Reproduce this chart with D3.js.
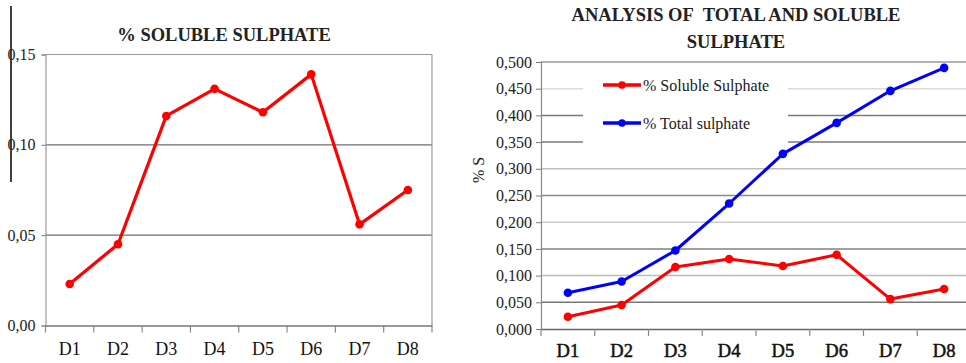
<!DOCTYPE html>
<html><head><meta charset="utf-8">
<script src="https://cdn.jsdelivr.net/npm/d3@7"></script>
<style>
body{margin:0;background:#fff}
svg{display:block}
svg text{font-family:"Liberation Serif","Times New Roman",serif !important;white-space:pre}
</style>
</head><body><svg id="c" width="966" height="363"></svg>
<script>
const categories = ["D1","D2","D3","D4","D5","D6","D7","D8"];
const solubleSulphate = [0.023, 0.045, 0.116, 0.131, 0.118, 0.139, 0.056, 0.075];
const totalSulphate = [0.068, 0.089, 0.147, 0.235, 0.328, 0.386, 0.446, 0.489];
const leftTicks = [0, 0.05, 0.10, 0.15];
const leftTickLabels = ["0,00","0,05","0,10","0,15"];
const rightTicks = [0,0.05,0.1,0.15,0.2,0.25,0.3,0.35,0.4,0.45,0.5];
const rightTickLabels = ["0,000","0,050","0,100","0,150","0,200","0,250","0,300","0,350","0,400","0,450","0,500"];
const leftTitle = "% SOLUBLE SULPHATE";
const rightTitle = ["ANALYSIS OF\u00a0 TOTAL AND SOLUBLE","SULPHATE"];
const seriesNames = ["% Soluble Sulphate","% Total sulphate"];
const yLabel = "% S";

const svg = d3.select("#c");
const FONT = "Liberation Serif";
const RED = "#ff0000", BLUE = "#0000ff";

svg.append("line").attr("x1",11).attr("x2",11).attr("y1",6).attr("y2",182)
  .attr("stroke","#000").attr("stroke-width",1.5);

// ---------- LEFT CHART ----------
{
  const L = {x0:45.5, x1:432, y0:54.5, y1:325.5};
  const x = d3.scaleBand().domain(categories).range([L.x0, L.x1]);
  const y = d3.scaleLinear().domain([0,0.15]).range([L.y1, L.y0]);
  const g = svg.append("g");
  g.selectAll("line.grid").data(leftTicks.slice(1)).join("line")
    .attr("x1",L.x0).attr("x2",L.x1).attr("y1",d=>y(d)).attr("y2",d=>y(d))
    .attr("stroke",(d,i)=> i===2 ? "#9a9a9a" : "#6e6e6e").attr("stroke-width",1.2);
  g.append("line").attr("x1",L.x1).attr("x2",L.x1).attr("y1",L.y0).attr("y2",L.y1)
    .attr("stroke","#9a9a9a").attr("stroke-width",1.2);
  const ya = d3.axisLeft(y).tickValues(leftTicks).tickFormat((d,i)=>leftTickLabels[i]).tickSize(4);
  const yg = g.append("g").attr("transform",`translate(${L.x0},0)`).call(ya).attr("font-family",FONT);
  yg.select(".domain").attr("stroke","#9a9a9a").attr("stroke-width",1.2);
  yg.selectAll(".tick line").attr("stroke","#777");
  yg.selectAll("text").attr("font-family",FONT).attr("font-size",16).attr("fill","#222").attr("x",-10).attr("dy","0.32em");
  const xa = d3.axisBottom(x).tickSize(0).tickSizeOuter(0);
  const xg = g.append("g").attr("transform",`translate(0,${L.y1})`).call(xa).attr("font-family",FONT);
  xg.select(".domain").attr("stroke","#777").attr("stroke-width",1.4);
  xg.selectAll("text").attr("font-family",FONT).attr("font-size",18).attr("fill","#111").attr("y",29).attr("dy",0);
  const bounds = categories.map(c=>x(c)).concat([L.x1]);
  g.selectAll("line.xt").data(bounds).join("line")
    .attr("x1",d=>d).attr("x2",d=>d).attr("y1",L.y1).attr("y2",L.y1+7)
    .attr("stroke","#888").attr("stroke-width",1.2);
  const line = d3.line().x((d,i)=>x(categories[i])+x.bandwidth()/2).y(d=>y(d));
  g.append("path").datum(solubleSulphate).attr("d",line).attr("fill","none")
    .attr("stroke",RED).attr("stroke-width",3.2).attr("stroke-linejoin","round");
  g.selectAll("circle").data(solubleSulphate).join("circle")
    .attr("cx",(d,i)=>x(categories[i])+x.bandwidth()/2).attr("cy",d=>y(d)).attr("r",4.3).attr("fill",RED);
  g.append("text").attr("x",224).attr("y",41).attr("text-anchor","middle")
    .attr("font-family",FONT).attr("font-weight","bold").attr("font-size",18.5).attr("fill","#222")
    .text(leftTitle);
}

// ---------- RIGHT CHART ----------
{
  const R = {x0:541, x1:971, y0:62, y1:329};
  const x = d3.scaleBand().domain(categories).range([R.x0, R.x1]);
  const y = d3.scaleLinear().domain([0,0.5]).range([R.y1, R.y0]);
  const g = svg.append("g");
  const gridColors = ["#777","#777","#bbb","#808080","#ccc","#8a8a8a","#bdbdbd","#7a7a7a","#7a7a7a","#dadada","#9a9a9a"];
  g.selectAll("line.grid").data(rightTicks.slice(1)).join("line")
    .attr("x1",R.x0).attr("x2",R.x1).attr("y1",d=>y(d)).attr("y2",d=>y(d))
    .attr("stroke",(d,i)=>gridColors[i+1]).attr("stroke-width",1.5);
  const ya = d3.axisLeft(y).tickValues(rightTicks).tickFormat((d,i)=>rightTickLabels[i]).tickSize(5);
  const yg = g.append("g").attr("transform",`translate(${R.x0},0)`).call(ya).attr("font-family",FONT);
  yg.select(".domain").attr("stroke","#888").attr("stroke-width",1.2);
  yg.selectAll(".tick line").attr("stroke","#777");
  yg.selectAll("text").attr("font-family",FONT).attr("font-size",16).attr("fill","#222").attr("x",-9).attr("dy","0.32em");
  const xa = d3.axisBottom(x).tickSize(0).tickSizeOuter(0);
  const xg = g.append("g").attr("transform",`translate(0,${R.y1})`).call(xa).attr("font-family",FONT);
  xg.select(".domain").attr("stroke","#666").attr("stroke-width",1.5);
  xg.selectAll("text").attr("font-family",FONT).attr("font-size",18.5).attr("fill","#111")
    .attr("stroke","#111").attr("stroke-width",0.5).attr("y",28).attr("dy",0);
  const bounds = categories.map(c=>x(c));
  g.selectAll("line.xt").data(bounds).join("line")
    .attr("x1",d=>d).attr("x2",d=>d).attr("y1",R.y1).attr("y2",R.y1+7)
    .attr("stroke","#888").attr("stroke-width",1.2);
  g.append("rect").attr("x",583).attr("y",72).attr("width",205).attr("height",84).attr("fill","#fff");
  const cx = (i)=>x(categories[i])+x.bandwidth()/2;
  const line = d3.line().x((d,i)=>cx(i)).y(d=>y(d));
  [[totalSulphate,BLUE],[solubleSulphate,RED]].forEach(([data,col])=>{
    g.append("path").datum(data).attr("d",line).attr("fill","none")
      .attr("stroke",col).attr("stroke-width",3).attr("stroke-linejoin","round");
    g.append("g").selectAll("circle").data(data).join("circle")
      .attr("cx",(d,i)=>cx(i)).attr("cy",d=>y(d)).attr("r",4.3).attr("fill",col);
  });
  const legY = [85,123];
  [RED,BLUE].forEach((col,i)=>{
    g.append("line").attr("x1",603).attr("x2",641).attr("y1",legY[i]).attr("y2",legY[i])
      .attr("stroke",col).attr("stroke-width",3.5);
    g.append("circle").attr("cx",622).attr("cy",legY[i]).attr("r",3.8).attr("fill",col);
    g.append("text").attr("x",643).attr("y",legY[i]).attr("dy","0.35em")
      .attr("font-family",FONT).attr("font-size",16).attr("fill","#222").text(seriesNames[i]);
  });
  g.append("text").attr("transform","translate(484,170) rotate(-90)").attr("text-anchor","middle")
    .attr("font-family",FONT).attr("font-size",16).attr("fill","#222").text(yLabel);
  rightTitle.forEach((t,i)=>{
    g.append("text").attr("x",736).attr("y",21+i*27).attr("text-anchor","middle")
      .attr("font-family",FONT).attr("font-weight","bold").attr("font-size",18.5).attr("fill","#222").text(t);
  });
}
</script></body></html>
